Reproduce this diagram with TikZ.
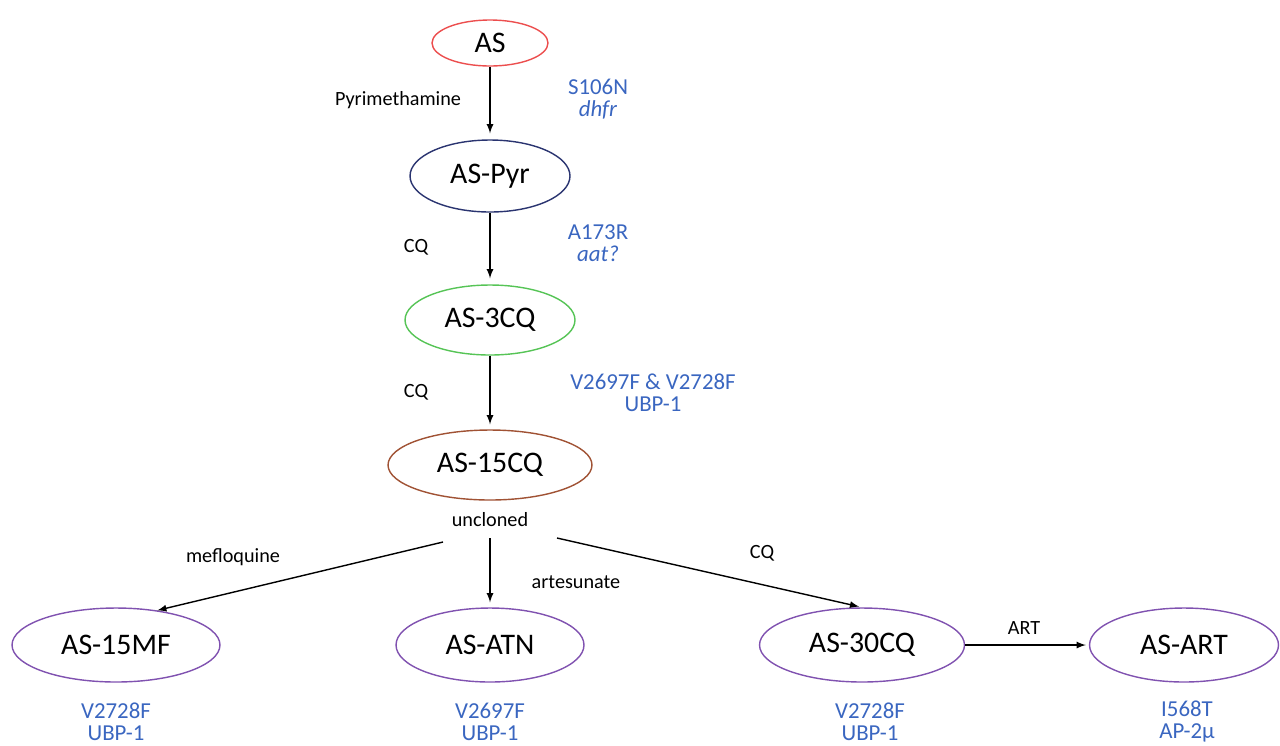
\documentclass[tikz,border=0pt]{standalone}
\usepackage{fontspec}
\setmainfont{Carlito}
\usepackage{tikz}
\usetikzlibrary{arrows}
\usetikzlibrary{positioning}
\usetikzlibrary{shapes.geometric}
\definecolor{asred}{RGB}{236,78,78}
\definecolor{asnavy}{RGB}{42,52,112}
\definecolor{asgreen}{RGB}{86,196,86}
\definecolor{asbrown}{RGB}{160,82,52}
\definecolor{aspurple}{RGB}{128,82,176}
\definecolor{mutblue}{RGB}{58,102,192}

\begin{document}
\begin{tikzpicture}[x=0.02cm,y=-0.02cm,
  strain/.style={draw,ellipse,line width=0.8pt,inner sep=0pt,font=\fontsize{17}{20}\selectfont},
  drug/.style={inner sep=1pt,font=\fontsize{11.5}{13}\selectfont},
  mut/.style={text=mutblue,align=center,inner sep=0pt,font=\fontsize{13}{12.5}\selectfont},
  arr/.style={-latex,line width=0.8pt}]
  \useasboundingbox (0,0) rectangle (1280,745);

  \node[strain,draw=asred,minimum width=2.32cm,minimum height=0.92cm] (as) at (490,43) {AS};
  \node[strain,draw=asnavy,minimum width=3.2cm,minimum height=1.44cm] (pyr) at (490,176) {AS-Pyr};
  \node[strain,draw=asgreen,minimum width=3.4cm,minimum height=1.4cm] (cq3) at (490,320) {AS-3CQ};
  \node[strain,draw=asbrown,minimum width=4.08cm,minimum height=1.4cm] (cq15) at (490,465) {AS-15CQ};

  \node[strain,draw=aspurple,minimum width=4.16cm,minimum height=1.48cm] (mf) at (116,645) {AS-15MF};
  \node[strain,draw=aspurple,minimum width=3.76cm,minimum height=1.48cm] (atn) at (490,645) {AS-ATN};
  \node[strain,draw=aspurple,minimum width=4.1cm,minimum height=1.48cm] (cq30) at (862,645) {AS-30CQ};
  \node[strain,draw=aspurple,minimum width=3.78cm,minimum height=1.48cm] (art) at (1184,645) {AS-ART};

  \node[drug] (dpyr) at (398,100) {Pyrimethamine};
  \node[drug] (dcq1) at (416,247) {CQ};
  \node[drug] (dcq2) at (416,392) {CQ};
  \node[drug] (unc) at (490,520) {uncloned};
  \node[drug] (dmf) at (233,557) {mefloquine};
  \node[drug] (datn) at (576,582) {artesunate};
  \node[drug] (dcq3) at (762,553) {CQ};
  \node[drug] (dart) at (1024,628) {ART};

  \node[mut] (m1) at (598,99) {S106N\\\textit{dhfr}};
  \node[mut] (m2) at (598,243) {A173R\\\textit{aat?}};
  \node[mut] (m3) at (653,393) {V2697F \& V2728F\\UBP-1};
  \node[mut] (m4) at (116,722) {V2728F\\UBP-1};
  \node[mut] (m5) at (490,722) {V2697F\\UBP-1};
  \node[mut] (m6) at (870,722) {V2728F\\UBP-1};
  \node[mut] (m7) at (1187,722) {I568T\\AP-2µ};

  \coordinate (uL) at (443,542);
  \coordinate (uM) at (490,538);
  \coordinate (uR) at (557,538);

  \draw[arr,shorten >=1.2mm](as)--(pyr);
  \draw[arr,shorten >=1.2mm](pyr)--(cq3);
  \draw[arr,shorten >=1mm](cq3)--(cq15);
  \draw[arr](uL)--(mf.40);
  \draw[arr,shorten >=1mm](uM)--(atn);
  \draw[arr,shorten >=0.6mm](uR)--(cq30.north);
  \draw[arr,shorten >=0.6mm](cq30)--(art);
\end{tikzpicture}
\end{document}
